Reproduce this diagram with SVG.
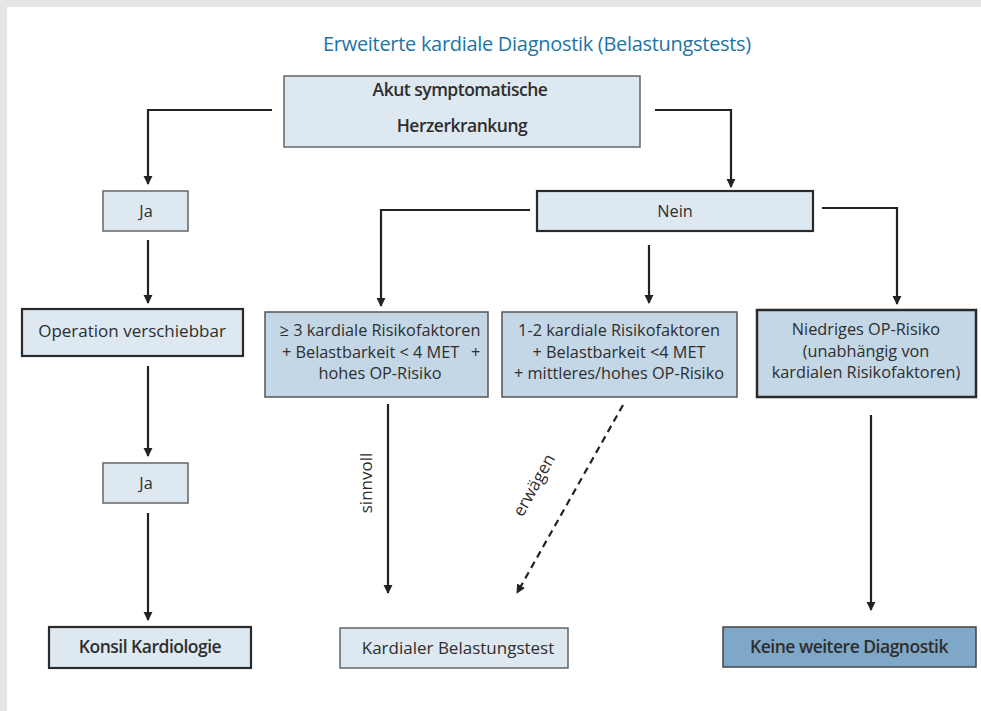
<svg xmlns="http://www.w3.org/2000/svg" width="981" height="711" viewBox="0 0 981 711">
<defs>
<style>
.t{font-family:"Open Sans","Liberation Sans",sans-serif;font-size:16.3px;fill:#2e2e2e;text-anchor:middle}
.s{text-anchor:start}
.b{font-weight:600;font-size:17.5px;letter-spacing:-0.5px}
.l{font-size:17px}
.n1{fill:#dde8f1;stroke:#666;stroke-width:1.5}
.n2{fill:#dde8f1;stroke:#2a2a2a;stroke-width:2.2}
.n3{fill:#c4d7e7;stroke:#555;stroke-width:1.5}
.n4{fill:#c4d7e7;stroke:#2a2a2a;stroke-width:2.5}
.n5{fill:#7fa7c7;stroke:#444;stroke-width:1.5}
.c{fill:none;stroke:#222;stroke-width:2.2;marker-end:url(#ah)}
.d{fill:none;stroke:#222;stroke-width:2.2;stroke-dasharray:7 5;marker-end:url(#ah)}
</style>
<marker id="ah" viewBox="0 0 10 10" refX="9" refY="5" markerWidth="4.2" markerHeight="4.2" orient="auto" markerUnits="strokeWidth">
<path d="M0,0 L10,5 L0,10 z" fill="#222"/>
</marker>
</defs>
<rect x="0" y="0" width="981" height="711" fill="#e6e6e6"/>
<rect x="7" y="7" width="974" height="704" fill="#ffffff"/>
<text x="537" y="51" style="font-family:'Open Sans','Liberation Sans',sans-serif;font-size:20px;fill:#1e74a4;text-anchor:middle;letter-spacing:-0.3px">Erweiterte kardiale Diagnostik (Belastungstests)</text>

<g id="connectors">
<polyline class="c" points="272,110 148,110 148,184"/>
<polyline class="c" points="655,110 731,110 731,187"/>
<polyline class="c" points="530,210 381,210 381,306"/>
<polyline class="c" points="822,208 897,208 897,304"/>
<line class="c" x1="649" y1="245" x2="649" y2="303"/>
<line class="c" x1="148" y1="240" x2="148" y2="303"/>
<line class="c" x1="148" y1="366" x2="148" y2="456"/>
<line class="c" x1="148" y1="513" x2="148" y2="620"/>
<line class="c" x1="388" y1="404" x2="388" y2="593"/>
<line class="d" x1="623" y1="405" x2="517" y2="593"/>
<line class="c" x1="871" y1="415" x2="871" y2="610"/>
<text class="t l" transform="translate(372,483) rotate(-90)">sinnvoll</text>
<text class="t l" transform="translate(539,488) rotate(-61)">erwägen</text>
</g>

<g id="n-akut">
<rect class="n1" x="284" y="76" width="356" height="71"/>
<text class="t b" x="460" y="96">Akut symptomatische</text>
<text class="t b" x="462" y="132">Herzerkrankung</text>
</g>
<g id="n-ja1">
<rect class="n1" x="103" y="191" width="85" height="40"/>
<text class="t" x="146" y="217">Ja</text>
</g>
<g id="n-nein">
<rect class="n2" x="537" y="191" width="276" height="40"/>
<text class="t" x="675" y="217">Nein</text>
</g>
<g id="n-op">
<rect class="n2" x="22" y="309" width="221" height="47"/>
<text class="t l" x="132" y="337">Operation verschiebbar</text>
</g>
<g id="n-risk3">
<rect class="n3" x="265" y="312" width="223" height="85"/>
<text class="t" x="380" y="336">≥ 3 kardiale Risikofaktoren</text>
<text class="t s" x="282" y="358">+ Belastbarkeit &lt; 4 MET</text>
<text class="t s" x="471" y="358">+</text>
<text class="t" x="380" y="379">hohes OP-Risiko</text>
</g>
<g id="n-risk12">
<rect class="n3" x="502" y="312" width="235" height="85"/>
<text class="t" x="619" y="336">1-2 kardiale Risikofaktoren</text>
<text class="t" x="619" y="358">+ Belastbarkeit &lt;4 MET</text>
<text class="t" x="619" y="379">+ mittleres/hohes OP-Risiko</text>
</g>
<g id="n-niedrig">
<rect class="n4" x="757" y="310" width="219" height="87"/>
<text class="t" x="866" y="335">Niedriges OP-Risiko</text>
<text class="t" x="866" y="357">(unabhängig von</text>
<text class="t" x="866" y="378">kardialen Risikofaktoren)</text>
</g>
<g id="n-ja2">
<rect class="n1" x="103" y="463" width="85" height="40"/>
<text class="t" x="146" y="489">Ja</text>
</g>
<g id="n-konsil">
<rect class="n2" x="49" y="627" width="202" height="41"/>
<text class="t b" x="150" y="653">Konsil Kardiologie</text>
</g>
<g id="n-test">
<rect class="n1" x="340" y="628" width="228" height="40"/>
<text class="t l" x="458" y="654">Kardialer Belastungstest</text>
</g>
<g id="n-keine">
<rect class="n5" x="723" y="627" width="253" height="40"/>
<text class="t b" x="849" y="653">Keine weitere Diagnostik</text>
</g>
</svg>
